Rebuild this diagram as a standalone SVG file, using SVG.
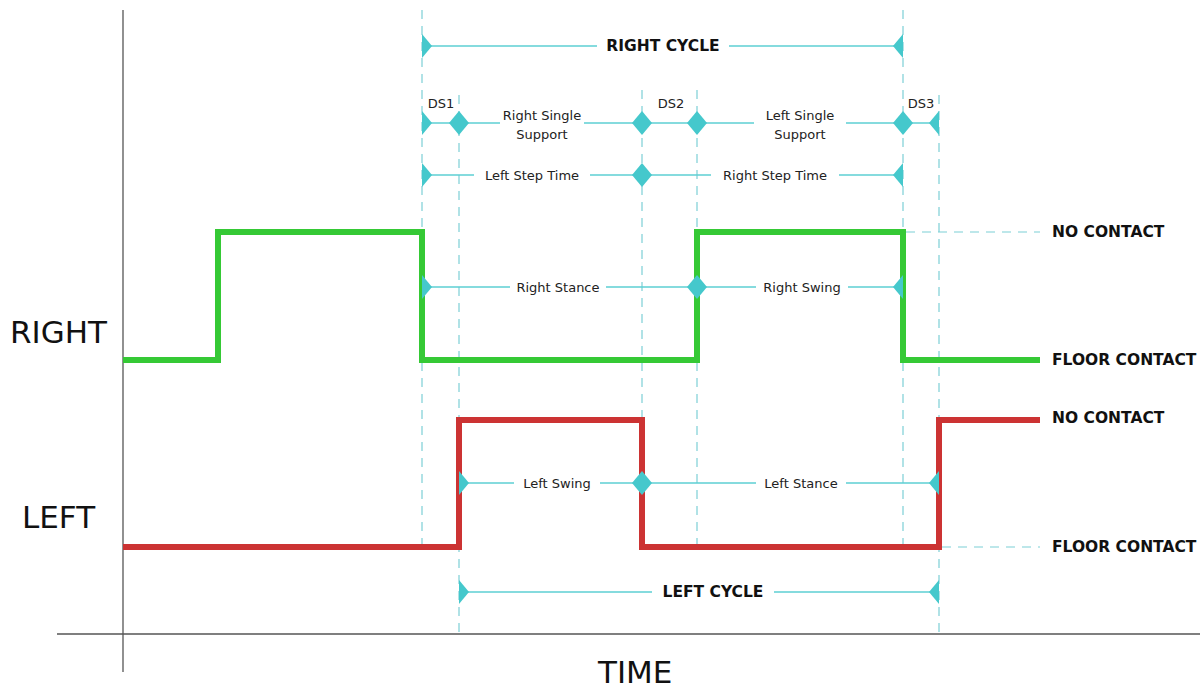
<svg xmlns="http://www.w3.org/2000/svg" width="1204" height="691" viewBox="0 0 1204 691">
<style>
.axis{stroke:#555;stroke-width:1.3;fill:none}
.ext{stroke:#7ccfd6;stroke-width:1.2;stroke-dasharray:9,7;fill:none}
.dim{stroke:#5ccfd3;stroke-width:1.4;fill:none;marker-start:url(#tip);marker-end:url(#tip)}
.green{stroke:#35c935;stroke-width:6;fill:none;stroke-linejoin:miter}
.red{stroke:#cc3333;stroke-width:6;fill:none;stroke-linejoin:miter}
.lbl{font-family:"DejaVu Sans",Verdana,sans-serif;font-size:13px;fill:#222}
.bold{font-family:"DejaVu Sans",Verdana,sans-serif;font-size:15.5px;font-weight:bold;fill:#111}
.big{font-family:"DejaVu Sans",Verdana,sans-serif;font-size:31px;fill:#111}
</style>
<defs>
<marker id="tip" viewBox="-10 -12 11 24" refX="0" refY="0" markerWidth="11" markerHeight="24" markerUnits="userSpaceOnUse" orient="auto-start-reverse">
<polygon points="0,-12 -10,0 0,12" fill="#45c8cc"/>
</marker>
</defs>
<rect width="1204" height="691" fill="#fff"/>

<g id="axes">
<line class="axis" x1="123" y1="10" x2="123" y2="672"/>
<line class="axis" x1="57" y1="634" x2="1200" y2="634"/>
</g>

<g id="extension-lines">
<line class="ext" x1="422" y1="10" x2="422" y2="550"/>
<line class="ext" x1="459" y1="95" x2="459" y2="634"/>
<line class="ext" x1="642" y1="90" x2="642" y2="550"/>
<line class="ext" x1="697" y1="90" x2="697" y2="550"/>
<line class="ext" x1="903" y1="10" x2="903" y2="550"/>
<line class="ext" x1="939" y1="95" x2="939" y2="634"/>
<line class="ext" x1="906" y1="232" x2="1040" y2="232"/>
<line class="ext" x1="942" y1="547" x2="1040" y2="547"/>
</g>

<g id="signals">
<polyline id="right-signal" class="green" points="123,360 218,360 218,232 422,232 422,360 697,360 697,232 903,232 903,360 1040,360"/>
<polyline id="left-signal" class="red" points="123,547 459,547 459,420 642,420 642,547 939,547 939,420 1040,420"/>
</g>

<g id="connectors">
<line class="dim" x1="422" y1="46" x2="903" y2="46"/>
<line class="dim" x1="422" y1="123" x2="459" y2="123"/>
<line class="dim" x1="459" y1="123" x2="642" y2="123"/>
<line class="dim" x1="642" y1="123" x2="697" y2="123"/>
<line class="dim" x1="697" y1="123" x2="903" y2="123"/>
<line class="dim" x1="903" y1="123" x2="939" y2="123"/>
<line class="dim" x1="422" y1="175" x2="642" y2="175"/>
<line class="dim" x1="642" y1="175" x2="903" y2="175"/>
<line class="dim" x1="422" y1="287" x2="697" y2="287"/>
<line class="dim" x1="697" y1="287" x2="903" y2="287"/>
<line class="dim" x1="459" y1="483" x2="642" y2="483"/>
<line class="dim" x1="642" y1="483" x2="939" y2="483"/>
<line class="dim" x1="459" y1="592" x2="939" y2="592"/>
</g>

<g id="label-backgrounds" fill="#fff">
<rect x="597" y="36" width="132" height="20"/>
<rect x="500" y="104" width="84" height="40"/>
<rect x="754" y="104" width="92" height="40"/>
<rect x="474" y="165" width="116" height="20"/>
<rect x="711" y="165" width="128" height="20"/>
<rect x="510" y="277" width="96" height="20"/>
<rect x="756" y="277" width="92" height="20"/>
<rect x="514" y="473" width="86" height="20"/>
<rect x="756" y="473" width="90" height="20"/>
<rect x="652" y="582" width="122" height="20"/>
</g>

<g id="labels">
<text class="bold" x="663" y="51" text-anchor="middle">RIGHT CYCLE</text>
<text class="lbl" x="441" y="108" text-anchor="middle">DS1</text>
<text class="lbl" x="671" y="108" text-anchor="middle">DS2</text>
<text class="lbl" x="921" y="108" text-anchor="middle">DS3</text>
<text class="lbl" x="542" y="120" text-anchor="middle">Right Single</text>
<text class="lbl" x="542" y="139" text-anchor="middle">Support</text>
<text class="lbl" x="800" y="120" text-anchor="middle">Left Single</text>
<text class="lbl" x="800" y="139" text-anchor="middle">Support</text>
<text class="lbl" x="532" y="180" text-anchor="middle">Left Step Time</text>
<text class="lbl" x="775" y="180" text-anchor="middle">Right Step Time</text>
<text class="lbl" x="558" y="292" text-anchor="middle">Right Stance</text>
<text class="lbl" x="802" y="292" text-anchor="middle">Right Swing</text>
<text class="lbl" x="557" y="488" text-anchor="middle">Left Swing</text>
<text class="lbl" x="801" y="488" text-anchor="middle">Left Stance</text>
<text class="bold" x="713" y="597" text-anchor="middle">LEFT CYCLE</text>
<text class="bold" x="1052" y="237">NO CONTACT</text>
<text class="bold" x="1052" y="365">FLOOR CONTACT</text>
<text class="bold" x="1052" y="423">NO CONTACT</text>
<text class="bold" x="1052" y="552">FLOOR CONTACT</text>
<text class="big" x="10" y="343">RIGHT</text>
<text class="big" x="22" y="528">LEFT</text>
<text class="big" x="598" y="683">TIME</text>
</g>
</svg>
